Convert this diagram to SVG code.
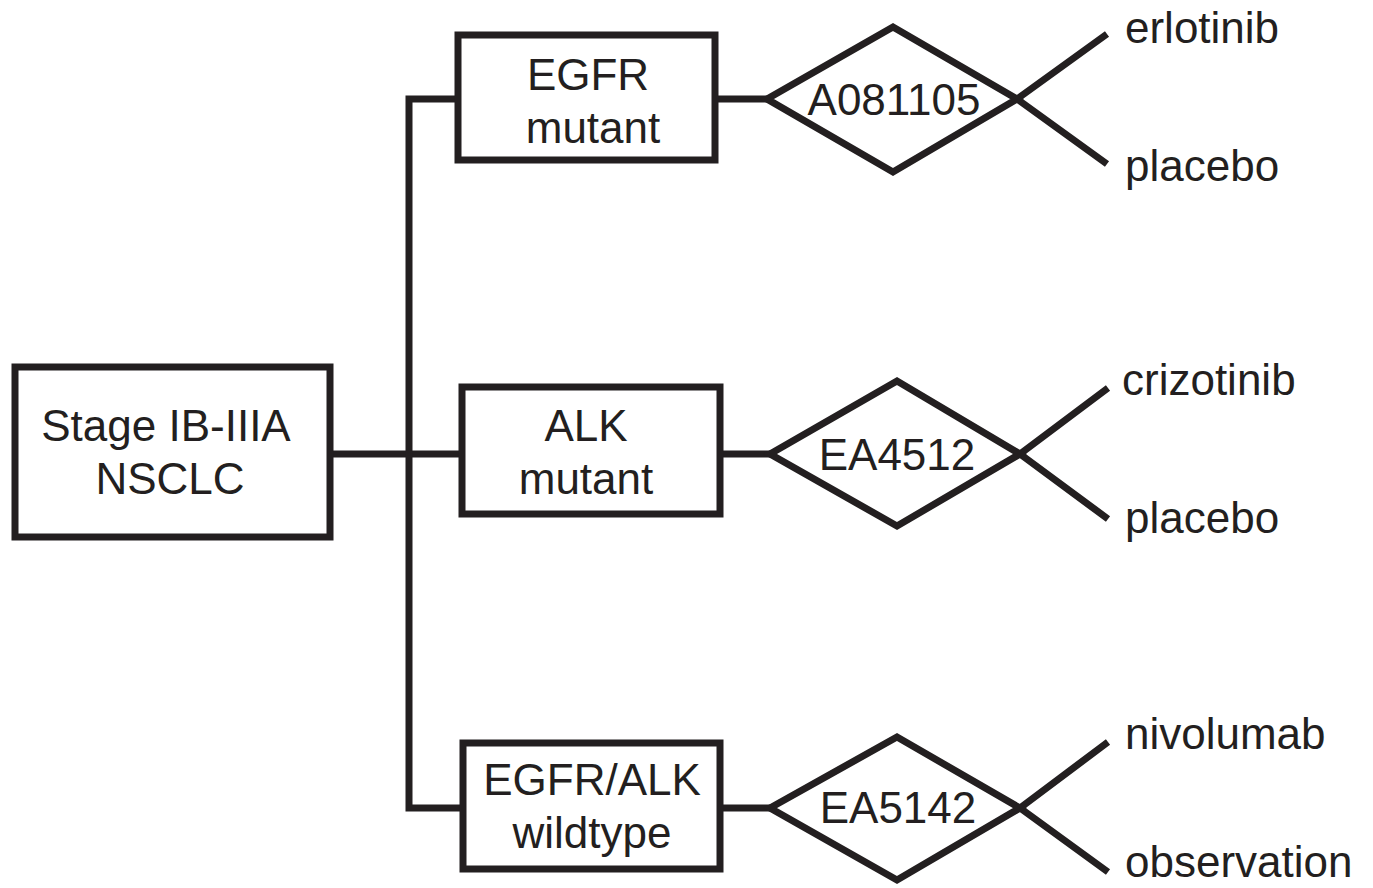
<svg xmlns="http://www.w3.org/2000/svg" width="1373" height="888" viewBox="0 0 1373 888">
<style>
.box{fill:#fff;stroke:#231f20;stroke-width:7}
.dia{fill:none;stroke:#231f20;stroke-width:7;stroke-linejoin:miter}
.ln{fill:none;stroke:#231f20;stroke-width:7}
text{font-family:"Liberation Sans",Arial,sans-serif;font-size:44px;fill:#231f20}
.c{text-anchor:middle}
</style>
<rect width="1373" height="888" fill="#fff"/>
<g id="connectors">
<path class="ln" d="M330,454 H462"/>
<path class="ln" d="M458,99 H409 V808 H463"/>
<path class="ln" d="M715,99 H767"/>
<path class="ln" d="M720,454 H770"/>
<path class="ln" d="M720,808 H770"/>
<path class="ln" d="M1017,99 L1107,34 M1017,99 L1107,164"/>
<path class="ln" d="M1020,454 L1108,388 M1020,454 L1108,519"/>
<path class="ln" d="M1020,808 L1108,742 M1020,808 L1108,872"/>
</g>
<g id="stage">
<rect class="box" x="15" y="367" width="315" height="170"/>
<text class="c" x="166" y="441">Stage IB-IIIA</text>
<text class="c" x="170" y="494">NSCLC</text>
</g>
<g id="egfr">
<rect class="box" x="458" y="35" width="257" height="125"/>
<text class="c" x="588" y="90">EGFR</text>
<text class="c" x="593" y="143">mutant</text>
</g>
<g id="alk">
<rect class="box" x="462" y="387" width="258" height="127"/>
<text class="c" x="586" y="441">ALK</text>
<text class="c" x="586" y="494">mutant</text>
</g>
<g id="wildtype">
<rect class="box" x="463" y="743" width="257" height="126"/>
<text class="c" x="592" y="795">EGFR/ALK</text>
<text class="c" x="592" y="848">wildtype</text>
</g>
<g id="a081105">
<polygon class="dia" points="767,99 893,27 1017,99 893,172"/>
<text class="c" x="894" y="115">A081105</text>
</g>
<g id="ea4512">
<polygon class="dia" points="770,454 897,381 1020,454 897,526"/>
<text class="c" x="897" y="470">EA4512</text>
</g>
<g id="ea5142">
<polygon class="dia" points="770,808 897,737 1020,808 897,880"/>
<text class="c" x="898" y="823">EA5142</text>
</g>
<g id="arms">
<text x="1125" y="43">erlotinib</text>
<text x="1125" y="181">placebo</text>
<text x="1122" y="395">crizotinib</text>
<text x="1125" y="533">placebo</text>
<text x="1125" y="749">nivolumab</text>
<text x="1125" y="877">observation</text>
</g>
</svg>
